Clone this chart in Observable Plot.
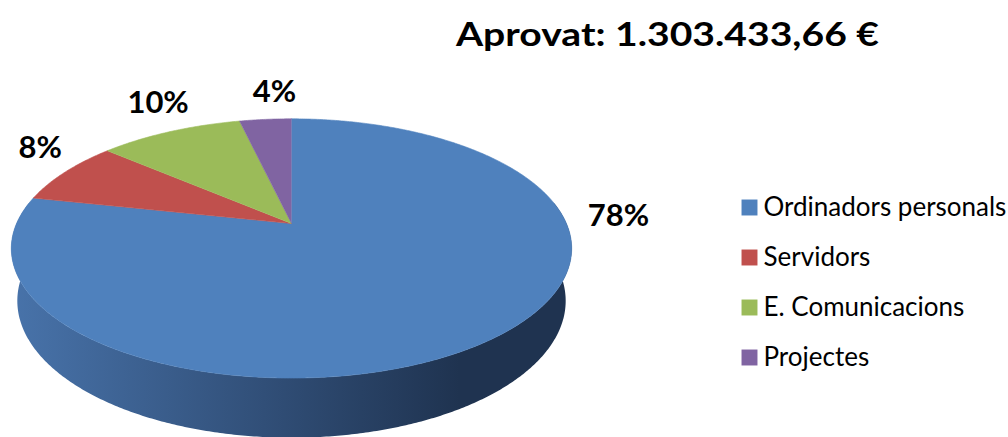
<!DOCTYPE html>
<html><head><meta charset="utf-8">
<script src="https://cdn.jsdelivr.net/npm/d3@7"></script>
<script src="https://cdn.jsdelivr.net/npm/@observablehq/plot@0.6"></script>
<style>body{margin:0;background:#fff;} svg{display:block}</style>
</head><body><div id="chart"></div>
<script>
// ---- data ----
const categories = ["Ordinadors personals", "Servidors", "E. Comunicacions", "Projectes"];
const shares = [78.4, 8.0, 10.0, 3.6];          // percent of approved budget
const pctLabels = ["78%", "8%", "10%", "4%"];
const titleText = "Aprovat: 1.303.433,66 €";
const colors = ["#4f81bd", "#c0504d", "#9bbb59", "#8064a2"];

// ---- layout / 3D projection ----
const W = 1008, H = 437;
const cx = 291, cy = 223, focal = 1273, dist = 4.63, tilt = 27 * Math.PI / 180, thickness = 0.215;
function project(X, Y, Z) {
  const d = dist + Z * Math.cos(tilt) - Y * Math.sin(tilt);
  const u = Z * Math.sin(tilt) + Y * Math.cos(tilt);
  return [cx + focal * X / d, cy - focal * u / d];
}
const rad = a => a * Math.PI / 180;
const rim = (phiDeg, Y = 0, r = 1) => project(r * Math.cos(rad(phiDeg)), Y, r * Math.sin(rad(phiDeg)));

// slices: clockwise from 12 o'clock (phi = 90 - theta)
const total = d3.sum(shares);
let acc = 0;
const slices = categories.map((c, i) => {
  const t0 = acc / total * 360; acc += shares[i]; const t1 = acc / total * 360;
  return {key: c, color: colors[i], label: pctLabels[i], t0, t1};
});

const topPts = [];
for (const s of slices) {
  const [vx, vy] = project(0, 0, 0);
  topPts.push({key: s.key, x: vx, y: vy});
  const n = Math.max(2, Math.ceil((s.t1 - s.t0) / 0.5));
  for (let k = 0; k <= n; k++) {
    const th = s.t0 + (s.t1 - s.t0) * k / n;
    const [x, y] = rim(90 - th);
    topPts.push({key: s.key, x, y});
  }
}

// front side wall (only the front half is visible)
const sidePts = [];
for (let p = 170; p <= 370; p += 0.5) { const [x, y] = rim(p, 0); sidePts.push({x, y}); }
for (let p = 370; p >= 170; p -= 0.5) { const [x, y] = rim(p, -thickness); sidePts.push({x, y}); }

// label anchors: rim point at the slice mid-angle, nudged outward (style offsets)
const labelNudge = [[124, -122], [-25, -24], [-12, -29], [9, -27]];
const labelData = slices.map((s, i) => {
  const [x, y] = rim(90 - (s.t0 + s.t1) / 2);
  return {x, y, label: s.label, dx: labelNudge[i][0], dy: labelNudge[i][1]};
});

// legend rows
const legendX = 749, legendTop = 207, legendStep = 50;
const legendData = categories.map((c, i) => ({key: c, x: legendX, y: legendTop + i * legendStep}));

const chart = Plot.plot({
  width: W, height: H, margin: 0,
  x: {domain: [0, W], range: [0, W], axis: null},
  y: {domain: [0, H], range: [0, H], axis: null},
  color: {domain: categories, range: colors},
  style: {fontFamily: "Lato, 'Open Sans', sans-serif", background: "white", color: "black"},
  marks: [
    Plot.line(sidePts, {x: "x", y: "y", fill: "url(#sideGrad)", stroke: "none"}),
    ...slices.map(s => Plot.line(topPts.filter(d => d.key === s.key),
      {x: "x", y: "y", fill: s.color, stroke: s.color, strokeWidth: 0.6})),
    ...labelData.map(d => Plot.text([d], {x: "x", y: "y", text: "label", dx: d.dx, dy: d.dy,
      fontSize: 31, fontWeight: "bold", fill: "black"})),
    Plot.dot(legendData, {x: "x", y: "y", symbol: "square", r: 9, fill: "key", stroke: null}),
    Plot.text(legendData, {x: "x", y: "y", text: "key", dx: 14, textAnchor: "start", fontSize: 26, fill: "black"}),
    Plot.text([titleText], {x: () => 667, y: () => 35, text: d => d, fontSize: 32, fontWeight: "bold", fill: "black"})
  ]
});

const svg = d3.select(chart);
const defs = svg.insert("defs", ":first-child");
const g = defs.append("linearGradient").attr("id", "sideGrad").attr("x1", 0).attr("x2", 1).attr("y1", 0).attr("y2", 0);
[[0, "#4873aa"], [0.45, "#314f78"], [0.8, "#1f3350"], [1, "#1f3350"]].forEach(([o, c]) =>
  g.append("stop").attr("offset", o).attr("stop-color", c));
// the reference title is set wider than the font's natural width
svg.selectAll("text").filter(function() { return this.textContent === titleText; })
  .attr("textLength", 423).attr("lengthAdjust", "spacingAndGlyphs");
document.getElementById("chart").appendChild(chart);
</script>
</body></html>
